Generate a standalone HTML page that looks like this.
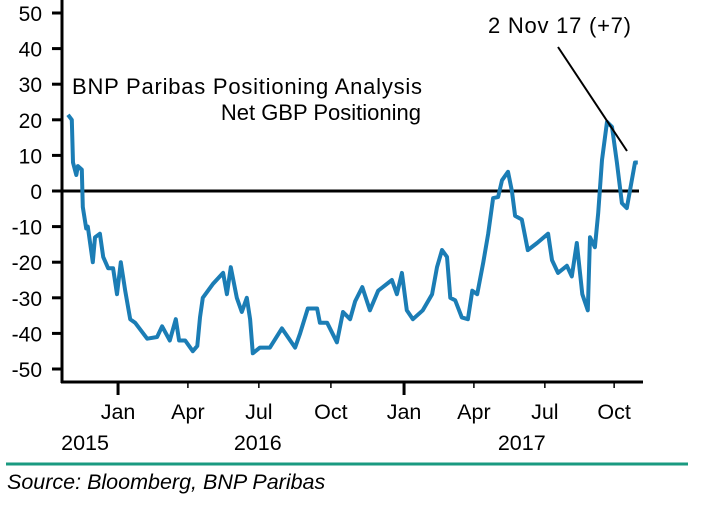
<!DOCTYPE html>
<html><head><meta charset="utf-8"><style>
html,body{margin:0;padding:0;background:#fff;}
svg{display:block;font-family:"Liberation Sans",Arial,sans-serif;}
</style></head><body>
<svg id="chart" width="708" height="512">
<g id="axes"></g>
<g id="series"></g>
<text x="72" y="94" font-size="22" fill="#000" textLength="350">BNP Paribas Positioning Analysis</text>
<text x="421" y="120" font-size="22" fill="#000" text-anchor="end">Net GBP Positioning</text>
<text x="488" y="33" font-size="22" fill="#000" textLength="143">2 Nov 17 (+7)</text>
<line x1="558" y1="47" x2="627" y2="151" stroke="#000" stroke-width="2"/>
<line x1="6" y1="464" x2="688" y2="464" stroke="#1a9a80" stroke-width="3"/>
<text x="7" y="489" font-size="21.5" font-style="italic" fill="#000">Source: Bloomberg, BNP Paribas</text>
</svg>
<script>
const weeks=[0,0.7,0.9,1.5,1.8,2.5,2.7,3.3,3.6,4.5,4.9,5.8,6.4,7.3,8.2,8.9,9.6,10.4,11.3,12.2,14.4,16.2,17.1,18.5,19.6,20.2,21.3,22.7,23.5,24,24.5,26.4,28.2,28.9,29.6,30.7,31.6,32.5,33.1,33.6,34.9,36.7,38.9,41.3,42.2,43.6,45.3,45.8,47.1,48.9,50,51.3,52.2,53.5,54.9,56.4,58.9,59.8,60.7,61.6,62.7,64.5,66.2,67.1,68,68.9,69.5,70.4,71.6,72.7,73.5,74.4,75.5,76.4,77.3,78.2,78.9,80,80.7,81.3,82.5,83.6,85.3,87.3,88,89.1,90.7,91.6,92.5,93.5,94.5,94.9,95.8,96.4,97.1,98,98.9,99.8,100.7,101.6,102.5,103.1,103.6];
const values=[21.4,20,8,4.5,7,6,-4.5,-10.5,-10,-20,-13,-12,-18.5,-21.7,-21.7,-29,-20,-28,-36,-37,-41.5,-41,-38,-42,-36,-42,-42,-45,-43.5,-35.5,-30,-26,-23,-29,-21.4,-30,-34,-30,-36,-45.6,-44,-44,-38.6,-44,-40,-33,-33,-37,-37,-42.5,-34,-36,-31,-27,-33.5,-28,-25,-29,-23,-33.5,-36,-33.5,-29,-21.4,-16.6,-18.5,-30,-30.7,-35.5,-36,-28,-29,-20,-12,-2,-1.7,3,5.4,0,-7,-8,-16.6,-14.6,-12,-19.4,-23,-21,-24,-14.6,-29,-33.5,-13,-15.8,-6.2,8.7,19.4,18,8,-3.4,-4.8,3,8,8];
const yTicks=[50,40,30,20,10,0,-10,-20,-30,-40,-50];
const monthLabels=["Jan","Apr","Jul","Oct","Jan","Apr","Jul","Oct"];
const monthWeeks=[9.1,21.8,34.7,47.8,61.1,73.8,86.7,99.3];
const yearLabels=["2015","2016","2017"];
const yearWeeks=[3.1,34.5,82.5];
const yearTickWeeks=[9.1,61.1];
const NS="http://www.w3.org/2000/svg";
const xS=w=>68+w*5.5;
const yS=v=>191-v*3.56;
const axes=document.getElementById('axes'),series=document.getElementById('series');
function mk(tag,attrs,parent){const e=document.createElementNS(NS,tag);for(const k in attrs)e.setAttribute(k,attrs[k]);parent.appendChild(e);return e;}
let e=mk('line',{x1:62,y1:0,x2:62,y2:383,stroke:'#000','stroke-width':3},axes);


e=mk('line',{x1:61,y1:382,x2:643,y2:382,stroke:'#000','stroke-width':3},axes);


e=mk('line',{x1:62,y1:yS(0),x2:639,y2:yS(0),stroke:'#000','stroke-width':3},axes);


yTicks.forEach(v=>{
 const t=mk('line',{x1:52,y1:yS(v),x2:62,y2:yS(v),stroke:'#000','stroke-width':3},axes);
 
 
 const l=mk('text',{x:42,y:yS(v)+8,'font-size':21,'text-anchor':'end'},axes);
 l.textContent=v;
 
 
});
monthWeeks.forEach((w,i)=>{
 const major=yearTickWeeks.includes(w);
 const t=mk('line',{x1:xS(w),y1:382,x2:xS(w),y2:major?395:388,stroke:'#000','stroke-width':major?3:1.5},axes);
 
 
 const l=mk('text',{x:xS(w),y:419,'font-size':21.5,'text-anchor':'middle'},axes);
 l.textContent=monthLabels[i];
 
 
});
yearWeeks.forEach((w,i)=>{
 const l=mk('text',{x:xS(w),y:450,'font-size':21.5,'text-anchor':'middle'},axes);
 l.textContent=yearLabels[i];
 
 
});
const d=weeks.map((w,i)=>(i?'L':'M')+xS(w).toFixed(1)+' '+yS(values[i]).toFixed(1)).join(' ');
const p=mk('path',{d:d,fill:'none',stroke:'#1b7db5','stroke-width':4,'stroke-linejoin':'round'},series);


</script>
</body></html>
